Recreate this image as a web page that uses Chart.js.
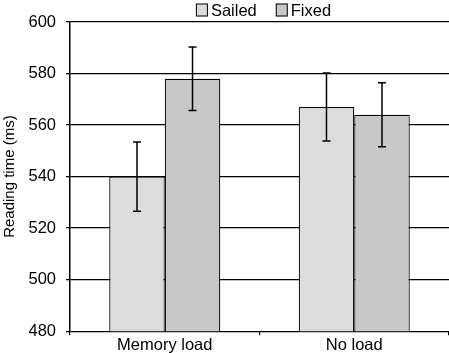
<!DOCTYPE html>
<html><head><meta charset="utf-8">
<script src="https://cdn.jsdelivr.net/npm/chart.js@4"></script>
<style>html,body{margin:0;padding:0;background:#fff}#w{width:449px;height:353px}</style>
</head><body><div id="w"><canvas id="c"></canvas></div>
<script>
const categories = ["Memory load", "No load"];
const sailed = [540, 567];
const fixed = [578, 564];
const sailedErr = [13.4, 13.2];
const fixedErr = [12.3, 12.4];
const yTicks = [480, 500, 520, 540, 560, 580, 600];
const FONT = 'Liberation Sans';

const errPlugin = {
  id: 'err',
  afterDatasetsDraw(chart) {
    const ctx = chart.ctx, y = chart.scales.y;
    chart.data.datasets.forEach((ds, i) => {
      const meta = chart.getDatasetMeta(i);
      meta.data.forEach((el, j) => {
        const v = ds.data[j], e = ds.err[j];
        const x = el.x, t = y.getPixelForValue(v + e), b = y.getPixelForValue(v - e);
        ctx.save();
        ctx.strokeStyle = '#000'; ctx.lineWidth = 1.5;
        ctx.beginPath();
        ctx.moveTo(x, t); ctx.lineTo(x, b);
        ctx.moveTo(x - 4, t); ctx.lineTo(x + 4, t);
        ctx.moveTo(x - 4, b); ctx.lineTo(x + 4, b);
        ctx.stroke();
        ctx.restore();
      });
    });
  }
};

const legendPlugin = {
  id: 'customLegend',
  afterDraw(chart) {
    const ctx = chart.ctx, area = chart.chartArea;
    ctx.save();
    ctx.font = '16.5px "' + FONT + '"';
    ctx.textBaseline = 'middle';
    const items = chart.data.datasets.map(d => ({text: d.label, color: d.backgroundColor, w: ctx.measureText(d.label).width}));
    const box = 12, gap = 3, space = 19;
    let total = 0;
    items.forEach((it, i) => { total += box + gap + it.w + (i ? space : 0); });
    let x = (area.left + area.right) / 2 - total / 2 + 4;
    const cy = 10;
    items.forEach(it => {
      ctx.fillStyle = it.color;
      ctx.fillRect(x, cy - 6.5, box, 13);
      ctx.strokeStyle = '#000'; ctx.lineWidth = 1;
      ctx.strokeRect(x + 0.5, cy - 6, box - 1, 12);
      ctx.fillStyle = '#000';
      ctx.fillText(it.text, x + box + gap, cy + 1);
      x += box + gap + it.w + space;
    });
    ctx.restore();
  }
};

new Chart(document.getElementById('c'), {
  type: 'bar',
  data: {
    labels: categories,
    datasets: [
      {label: 'Sailed', data: sailed, err: sailedErr, backgroundColor: '#dcdcdc', borderColor: '#000', borderWidth: 1.2, borderSkipped: false},
      {label: 'Fixed', data: fixed, err: fixedErr, backgroundColor: '#c8c8c8', borderColor: '#000', borderWidth: 1.2, borderSkipped: false}
    ]
  },
  options: {
    responsive: true, maintainAspectRatio: false, animation: false,
    layout: {padding: {left: 0, right: 0, top: 22, bottom: 0}},
    datasets: {bar: {categoryPercentage: 0.586, barPercentage: 1}},
    plugins: {
      legend: {display: false},
      tooltip: {enabled: false}
    },
    scales: {
      x: {
        afterFit(s) { s.height -= 2; },
        grid: {drawOnChartArea: false, drawTicks: true, tickLength: 4, color: '#000', lineWidth: 1.2},
        border: {display: false},
        ticks: {font: {family: FONT, size: 16.5}, color: '#000', padding: 0}
      },
      y: {
        min: 480, max: 600,
        afterBuildTicks(s) { s.ticks = yTicks.map(v => ({value: v})); },
        afterFit(s) { s.width = 70; },
        grid: {color: '#000', lineWidth: 1.3, tickLength: 4},
        border: {color: '#000', width: 1.5},
        ticks: {font: {family: FONT, size: 16.5}, color: '#000', padding: 10},
        title: {display: true, text: 'Reading time (ms)', font: {family: FONT, size: 15}, color: '#000', padding: {top: 1, bottom: 0}}
      }
    }
  },
  plugins: [errPlugin, legendPlugin]
});
</script></body></html>
